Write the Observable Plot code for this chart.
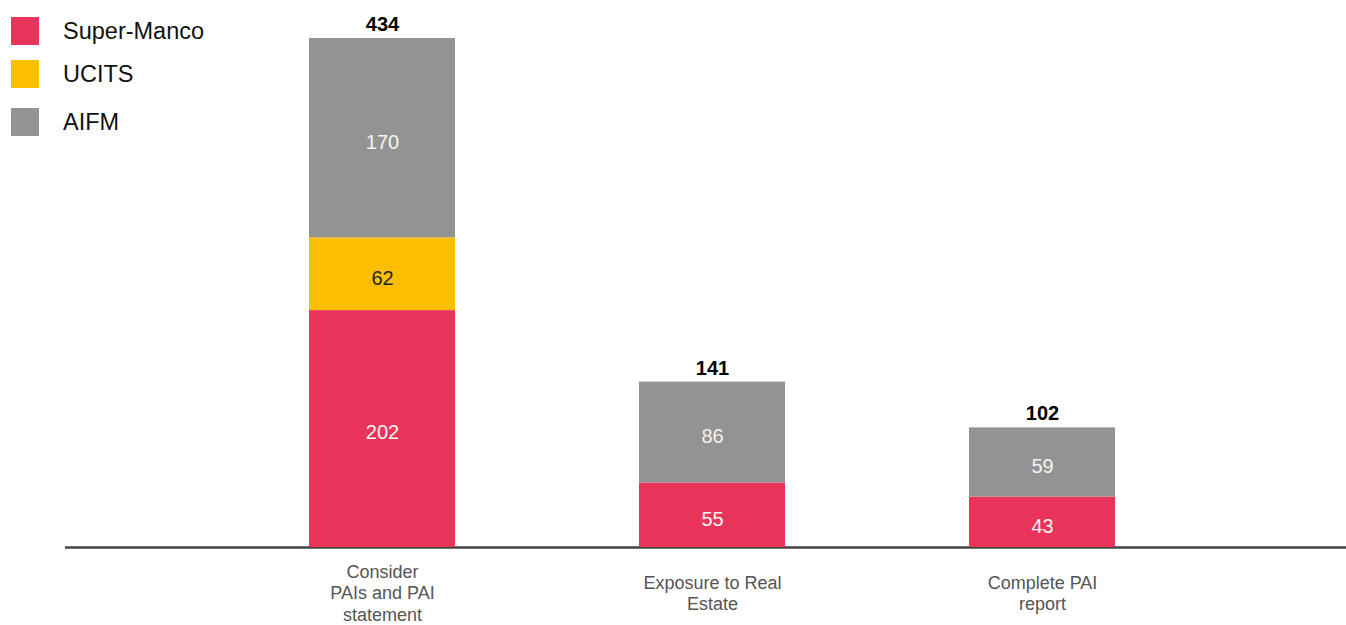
<!DOCTYPE html>
<html>
<head>
<meta charset="utf-8">
<script src="https://cdn.jsdelivr.net/npm/d3@7"></script>
<script src="https://cdn.jsdelivr.net/npm/@observablehq/plot@0.6"></script>
<style>
  html, body { margin: 0; padding: 0; background: #fff; }
  #wrap { position: relative; width: 1346px; height: 625px; font-family: "Liberation Sans", Arial, sans-serif; }
  #legend { position: absolute; left: 0; top: 0; }
  .item { position: absolute; left: 11px; display: flex; align-items: center; white-space: nowrap; }
  .sw { width: 28px; height: 28px; margin-right: 24px; }
  .lab { font-size: 23.5px; color: #111; }
</style>
</head>
<body>
<div id="wrap"><div id="legend"></div></div>
<script>
const categories = ["Consider\nPAIs and PAI\nstatement", "Exposure to Real\nEstate", "Complete PAI\nreport"];
const seriesNames = ["Super-Manco", "UCITS", "AIFM"];
const seriesColors = ["#E8345A", "#FCBF00", "#939393"];
const superManco = [202, 55, 43];
const ucits = [62, 0, 0];
const aifm = [170, 86, 59];
const totals = [434, 141, 102];

const seriesValues = [superManco, ucits, aifm];
const rows = [];
seriesNames.forEach((s, si) => {
  categories.forEach((c, ci) => {
    const v = seriesValues[si][ci];
    if (v > 0) rows.push({category: c, series: s, value: v});
  });
});
const totalRows = categories.map((c, i) => ({category: c, total: totals[i]}));

const chart = Plot.plot({
  width: 1346,
  height: 625,
  marginLeft: 65,
  marginRight: 0,
  marginTop: 38,
  marginBottom: 78,
  style: {fontFamily: "'Liberation Sans', Arial, sans-serif", background: "transparent"},
  x: {domain: categories, range: [217, 1207], paddingInner: 0.558, paddingOuter: 0.279, label: null},
  y: {domain: [0, 434], axis: null},
  color: {domain: seriesNames, range: seriesColors},
  marks: [
    Plot.ruleY([0], {stroke: "#444", strokeWidth: 2.5}),
    Plot.barY(rows, {x: "category", y: "value", fill: "series", z: "series", order: seriesNames}),
    Plot.text(rows, Plot.stackY({
      x: "category", y: "value", z: "series", order: seriesNames,
      text: d => String(d.value),
      fill: d => d.series === "UCITS" ? "#222" : "#f4f4f4",
      fontSize: 20,
      dy: 4
    })),
    Plot.text(totalRows, {x: "category", y: "total", text: d => String(d.total), dy: -14, fontSize: 20, fontWeight: "bold", fill: "#000"}),
    Plot.axisX({tickSize: 0, tickPadding: 45, lineAnchor: "middle", fontSize: 18, lineHeight: 1.2, color: "#555", label: null})
  ]
});
document.getElementById("wrap").prepend(chart);

const legend = document.getElementById("legend");
const tops = [17, 60, 108];
seriesNames.forEach((s, i) => {
  const item = document.createElement("div");
  item.className = "item";
  item.style.top = tops[i] + "px";
  const sw = document.createElement("div");
  sw.className = "sw";
  sw.style.background = seriesColors[i];
  const lab = document.createElement("span");
  lab.className = "lab";
  lab.textContent = s;
  item.appendChild(sw);
  item.appendChild(lab);
  legend.appendChild(item);
});
</script>
</body>
</html>
